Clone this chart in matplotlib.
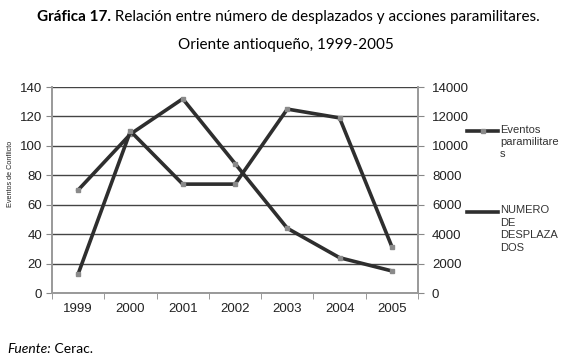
import matplotlib
matplotlib.use('Agg')
import matplotlib.pyplot as plt

years = ['1999', '2000', '2001', '2002', '2003', '2004', '2005']
eventos = [70, 108, 132, 88, 44, 24, 15]
desplazados = [1300, 11000, 7400, 7400, 12500, 11900, 3150]

line_col = '#2e2e2e'
mark_col = '#8a8a8a'

plt.rcParams['font.family'] = ['Liberation Sans', 'DejaVu Sans']

fig = plt.figure(figsize=(5.8, 3.63), dpi=100)
ax = fig.add_axes([0.0897, 0.1928, 0.631, 0.5675])
ax2 = ax.twinx()

x = range(len(years))
ax.plot(x, eventos, color=line_col, lw=2.6, marker='s', ms=3,
        mfc=mark_col, mec=mark_col, zorder=3)
ax2.plot(x, desplazados, color=line_col, lw=2.6, marker='s', ms=3,
         mfc=mark_col, mec=mark_col, zorder=3)

ax.set_xlim(-0.5, 6.5)
ax.set_ylim(0, 140)
ax2.set_ylim(0, 14000)
ax.set_yticks(range(0, 141, 20))
ax2.set_yticks(range(0, 14001, 2000))
ax.set_xticks(x)
ax.set_xticklabels(years)
ax.set_xticks([i + 0.5 for i in range(-1, 7)], minor=True)
ax.tick_params(axis='x', which='major', length=0, labelsize=9.5, pad=7, colors='#222222')
ax.tick_params(axis='x', which='minor', length=4, color='#888888')
ax.tick_params(axis='y', labelsize=9.5, length=4, color='#888888', colors='#222222', pad=3)
ax2.tick_params(axis='y', labelsize=9.5, length=4, color='#888888', colors='#222222', pad=6)
ax.grid(axis='y', color='#444444', lw=1.0)
ax.set_axisbelow(True)

for a in (ax, ax2):
    for s in a.spines.values():
        s.set_color('#999999')
        s.set_linewidth(1.2)
ax.spines['top'].set_visible(False)
ax2.spines['top'].set_visible(False)

fig.text(0.018, 0.52, 'Eventos de Conflicto', rotation=90, fontsize=5.2,
         ha='center', va='center', color='#222222')

# legend
fig.lines.append(plt.Line2D([0.805, 0.858], [0.639, 0.639], color=line_col, lw=2.6,
                            transform=fig.transFigure))
fig.lines.append(plt.Line2D([0.832], [0.639], color=mark_col, marker='s', ms=3,
                            transform=fig.transFigure))
fig.text(0.862, 0.657, 'Eventos\nparamilitare\ns', fontsize=8, va='top', ha='left',
         color='#333333', linespacing=1.3)
fig.lines.append(plt.Line2D([0.805, 0.858], [0.416, 0.416], color=line_col, lw=2.6,
                            transform=fig.transFigure))
fig.text(0.862, 0.434, 'NUMERO\nDE\nDESPLAZA\nDOS', fontsize=8, va='top', ha='left',
         color='#333333', linespacing=1.3)

# title
fig.canvas.draw()
r = fig.canvas.get_renderer()
t1 = fig.text(0, 0.952, 'Gráfica 17.', fontsize=11, fontweight='bold', family='Lato', va='center')
t2 = fig.text(0, 0.952, ' Relación entre número de desplazados y acciones paramilitares.',
              fontsize=11, family='Lato', va='center')
w1 = t1.get_window_extent(r).width / fig.bbox.width
w2 = t2.get_window_extent(r).width / fig.bbox.width
x0 = 0.497 - (w1 + w2) / 2
t1.set_x(x0)
t2.set_x(x0 + w1)
fig.text(0.493, 0.876, 'Oriente antioqueño, 1999-2005', fontsize=11, family='Lato',
         ha='center', va='center')

f1 = fig.text(0.012, 0.038, 'Fuente:', fontsize=10, family='Lato', style='italic', va='center')
wf = f1.get_window_extent(r).width / fig.bbox.width
fig.text(0.012 + wf, 0.038, ' Cerac.', fontsize=10, family='Lato', va='center')

fig.savefig('out.png', dpi=100)
